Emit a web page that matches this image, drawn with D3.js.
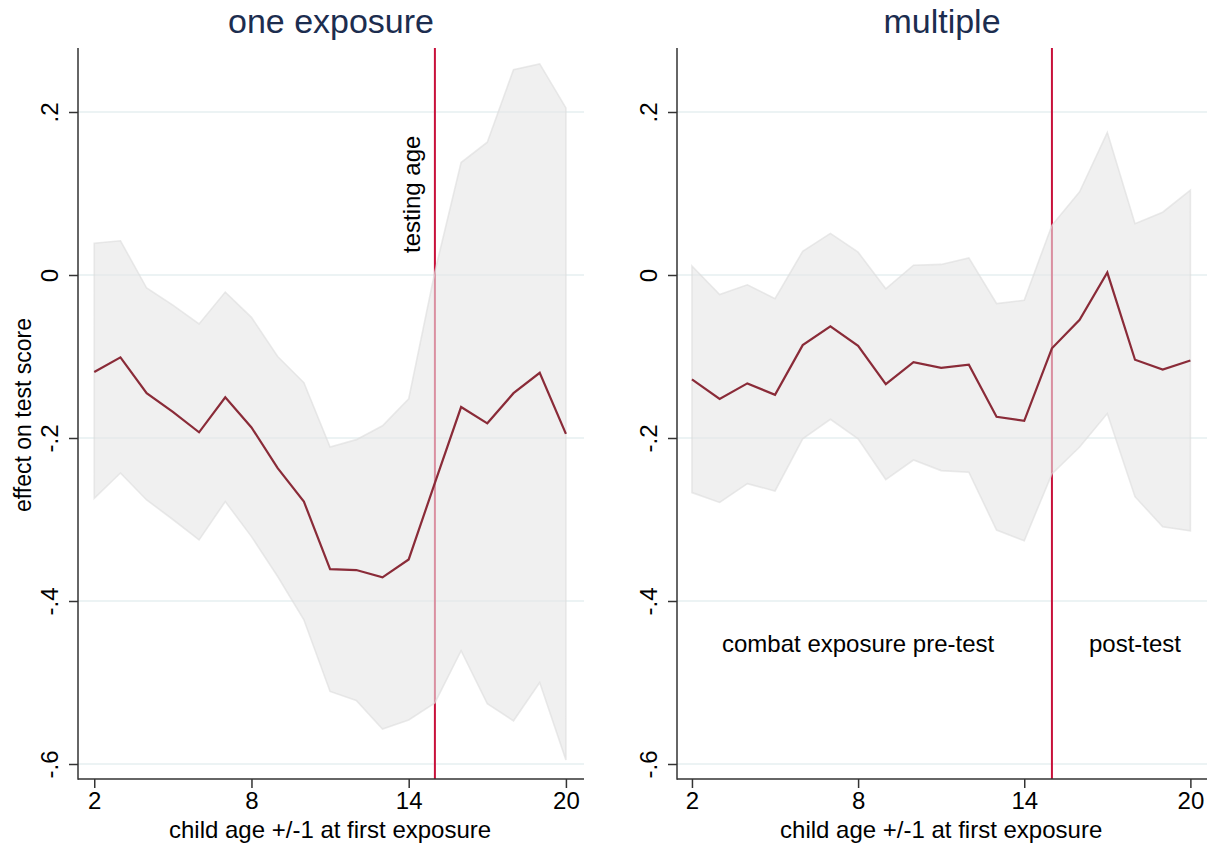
<!DOCTYPE html>
<html>
<head>
<meta charset="utf-8">
<script src="https://cdn.jsdelivr.net/npm/d3@7"></script>
<style>
  body { margin: 0; background: #fff; }
  svg text { font-family: "Liberation Sans", Arial, sans-serif; fill: #000; }
</style>
</head>
<body>
<svg id="chart" width="1207" height="843"></svg>
<script>
//
// data
//
var ages = [2, 3, 4, 5, 6, 7, 8, 9, 10, 11, 12, 13, 14, 15, 16, 17, 18, 19, 20];

var oneEst = [-0.119, -0.101, -0.145, -0.168, -0.193, -0.150, -0.187, -0.237, -0.278, -0.361,
    -0.362, -0.371, -0.349, -0.255, -0.162, -0.182, -0.145, -0.120, -0.195];
var oneHi = [0.039, 0.042, -0.016, -0.037, -0.060, -0.021, -0.052, -0.100, -0.132, -0.211,
    -0.202, -0.185, -0.152, 0.004, 0.138, 0.163, 0.252, 0.259, 0.205];
var oneLo = [-0.274, -0.243, -0.276, -0.300, -0.325, -0.278, -0.321, -0.370, -0.423, -0.511,
    -0.522, -0.557, -0.546, -0.525, -0.461, -0.526, -0.547, -0.500, -0.595];

var multEst = [-0.128, -0.152, -0.133, -0.147, -0.086, -0.063, -0.087, -0.134, -0.107, -0.114,
    -0.110, -0.174, -0.179, -0.090, -0.055, 0.003, -0.104, -0.116, -0.105];
var multHi = [0.011, -0.024, -0.012, -0.029, 0.029, 0.051, 0.028, -0.017, 0.012, 0.013,
    0.021, -0.035, -0.031, 0.061, 0.102, 0.175, 0.063, 0.077, 0.104];
var multLo = [-0.267, -0.279, -0.256, -0.265, -0.201, -0.177, -0.201, -0.251, -0.227, -0.240,
    -0.242, -0.313, -0.326, -0.244, -0.211, -0.170, -0.272, -0.309, -0.314];

var xTicks = [2, 8, 14, 20];
var yTicks = [0.2, 0, -0.2, -0.4, -0.6];
var yTickLabels = [".2", "0", "-.2", "-.4", "-.6"];
var testAge = 15;

var svg = d3.select("#chart");

function drawPanel(opt) {
    var x = d3.scaleLinear().domain(opt.xDomain).range([opt.left, opt.right]);
    var y = d3.scaleLinear().domain([0.2, -0.6]).range([112, 764]);
    var top = 48, bottom = 779;
    var g = svg.append("g");

    // title
    g.append("text")
        .attr("x", (opt.left + opt.right) / 2).attr("y", 33)
        .attr("text-anchor", "middle")
        .style("font-size", "34px").style("fill", "#1c2d4f")
        .text(opt.title);

    // grid lines
    g.selectAll(".grid").data(yTicks).enter().append("line")
        .attr("x1", opt.left).attr("x2", opt.right)
        .attr("y1", function(d) { return y(d); })
        .attr("y2", function(d) { return y(d); })
        .attr("stroke", "#e6eff1").attr("stroke-width", 1.6);

    // testing age line (under the band)
    g.append("line")
        .attr("x1", x(testAge)).attr("x2", x(testAge))
        .attr("y1", top).attr("y2", bottom)
        .attr("stroke", "#c8103a").attr("stroke-width", 2);

    var rows = ages.map(function(a, i) {
        return { age: a, est: opt.est[i], lo: opt.lo[i], hi: opt.hi[i] };
    });

    var area = d3.area()
        .x(function(d) { return x(d.age); })
        .y0(function(d) { return y(d.lo); })
        .y1(function(d) { return y(d.hi); });
    g.append("path").datum(rows)
        .attr("d", area)
        .attr("fill", "#e6e6e6").attr("fill-opacity", 0.6)
        .attr("stroke", "#dcdcdc").attr("stroke-opacity", 0.6).attr("stroke-width", 1.6);

    var line = d3.line()
        .x(function(d) { return x(d.age); })
        .y(function(d) { return y(d.est); });
    g.append("path").datum(rows)
        .attr("d", line)
        .attr("fill", "none")
        .attr("stroke", "#8a2b38").attr("stroke-width", 2.2);

    // axes
    var xAxis = d3.axisBottom(x).tickValues(xTicks).tickSize(9).tickPadding(4);
    var gx = g.append("g").attr("transform", "translate(0," + bottom + ")").call(xAxis);
    gx.select(".domain").remove();
    gx.selectAll(".tick line").attr("stroke", "#333").attr("stroke-width", 1.5);
    gx.selectAll(".tick text").style("font-size", "24px").attr("dy", "0.71em").attr("y", 13);

    var yAxis = d3.axisLeft(y).tickValues(yTicks).tickSize(9)
        .tickFormat(function(d, i) { return yTickLabels[i]; });
    var gy = g.append("g").attr("transform", "translate(" + opt.left + ",0)").call(yAxis);
    gy.select(".domain").remove();
    gy.selectAll(".tick line").attr("stroke", "#333").attr("stroke-width", 1.5);
    gy.selectAll(".tick text")
        .style("font-size", "24px")
        .attr("text-anchor", "middle")
        .attr("x", 0).attr("dy", 0)
        .attr("transform", "translate(-20,0) rotate(-90)");

    g.append("line")
        .attr("x1", opt.left).attr("x2", opt.left)
        .attr("y1", top).attr("y2", bottom + 0.75)
        .attr("stroke", "#333").attr("stroke-width", 1.5);
    g.append("line")
        .attr("x1", opt.left).attr("x2", opt.right)
        .attr("y1", bottom).attr("y2", bottom)
        .attr("stroke", "#333").attr("stroke-width", 1.5);

    g.append("text")
        .attr("x", x(11)).attr("y", 838)
        .attr("text-anchor", "middle")
        .style("font-size", "24px")
        .text("child age +/-1 at first exposure");

    return { g: g, x: x, y: y };
}

var p1 = drawPanel({ left: 78, right: 584, xDomain: [1.38, 20.69], title: "one exposure",
    est: oneEst, lo: oneLo, hi: oneHi });
var p2 = drawPanel({ left: 677, right: 1207, xDomain: [1.46, 20.6], title: "multiple",
    est: multEst, lo: multLo, hi: multHi });

svg.append("text")
    .attr("transform", "translate(31,415) rotate(-90)")
    .attr("text-anchor", "middle")
    .style("font-size", "23px")
    .text("effect on test score");

p1.g.append("text")
    .attr("transform", "translate(" + (p1.x(testAge) - 15) + "," + p1.y(0.099) + ") rotate(-90)")
    .attr("text-anchor", "middle")
    .style("font-size", "24px")
    .text("testing age");

p2.g.append("text")
    .attr("x", p2.x(8)).attr("y", p2.y(-0.452) + 9)
    .attr("text-anchor", "middle")
    .style("font-size", "24px")
    .text("combat exposure pre-test");
p2.g.append("text")
    .attr("x", p2.x(18)).attr("y", p2.y(-0.452) + 9)
    .attr("text-anchor", "middle")
    .style("font-size", "24px")
    .text("post-test");
</script>
</body>
</html>
